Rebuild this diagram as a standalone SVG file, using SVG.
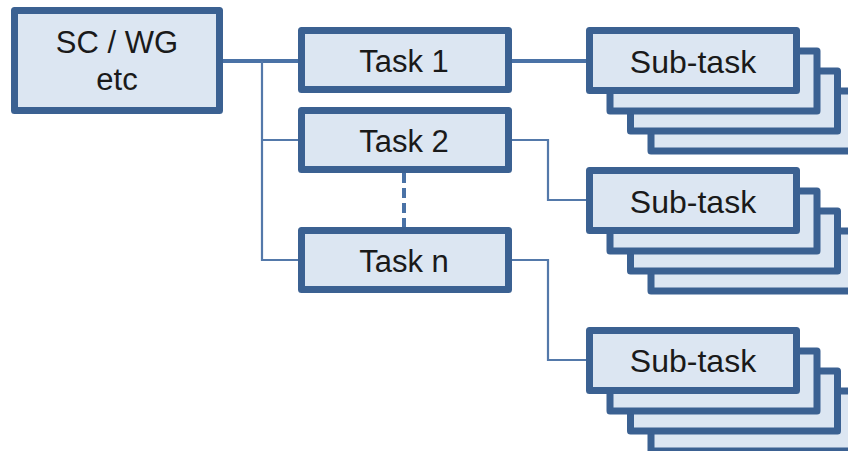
<svg xmlns="http://www.w3.org/2000/svg" width="848" height="451" viewBox="0 0 848 451">
<style>
.box{fill:#dce6f2;stroke:#3b6192;stroke-width:7;stroke-linejoin:round}
.lbl{font-family:"Liberation Sans",Arial,sans-serif;font-size:31px;fill:#1a1a1a;text-anchor:middle}
.sub{font-size:32px}
.thick{fill:none;stroke:#4a72a6;stroke-width:4}
.thin{fill:none;stroke:#5479aa;stroke-width:2.2}
.dash{fill:none;stroke:#4a72a6;stroke-width:4;stroke-dasharray:10 5}
</style>
<rect width="848" height="451" fill="#ffffff"/>
<g id="connectors">
<path class="thick" d="M223 61 H298"/>
<path class="thin" d="M262 61 V260 H298 M262 140 H298"/>
<path class="thick" d="M512 61 H586"/>
<path class="thin" d="M512 140 H548 V200 H587"/>
<path class="thin" d="M512 260 H548 V360 H587"/>
<path class="dash" d="M404 173 V227"/>
</g>
<g id="sc-wg">
<rect class="box" x="14.5" y="10.5" width="205" height="100"/>
<text class="lbl" x="117" y="53">SC / WG</text>
<text class="lbl" x="117" y="90">etc</text>
</g>
<g id="task1">
<rect class="box" x="301.5" y="30.5" width="207" height="59"/>
<text class="lbl" x="404" y="72">Task 1</text>
</g>
<g id="task2">
<rect class="box" x="301.5" y="110.5" width="207" height="59"/>
<text class="lbl" x="404" y="152">Task 2</text>
</g>
<g id="taskn">
<rect class="box" x="301.5" y="230.5" width="207" height="59"/>
<text class="lbl" x="404" y="272">Task n</text>
</g>
<g id="subtask1">
<rect class="box" x="651" y="91" width="207" height="60"/>
<rect class="box" x="630.5" y="71" width="207" height="60"/>
<rect class="box" x="610" y="51" width="207" height="60"/>
<rect class="box" x="589.5" y="30.5" width="207" height="60"/>
<text class="lbl sub" x="693" y="73">Sub-task</text>
</g>
<g id="subtask2">
<rect class="box" x="651" y="231" width="207" height="60"/>
<rect class="box" x="630.5" y="211" width="207" height="60"/>
<rect class="box" x="610" y="191" width="207" height="60"/>
<rect class="box" x="589.5" y="170.5" width="207" height="60"/>
<text class="lbl sub" x="693" y="213">Sub-task</text>
</g>
<g id="subtask3">
<rect class="box" x="651" y="391" width="207" height="60"/>
<rect class="box" x="630.5" y="371" width="207" height="60"/>
<rect class="box" x="610" y="351" width="207" height="60"/>
<rect class="box" x="589.5" y="330.5" width="207" height="60"/>
<text class="lbl sub" x="693" y="372">Sub-task</text>
</g>
</svg>
